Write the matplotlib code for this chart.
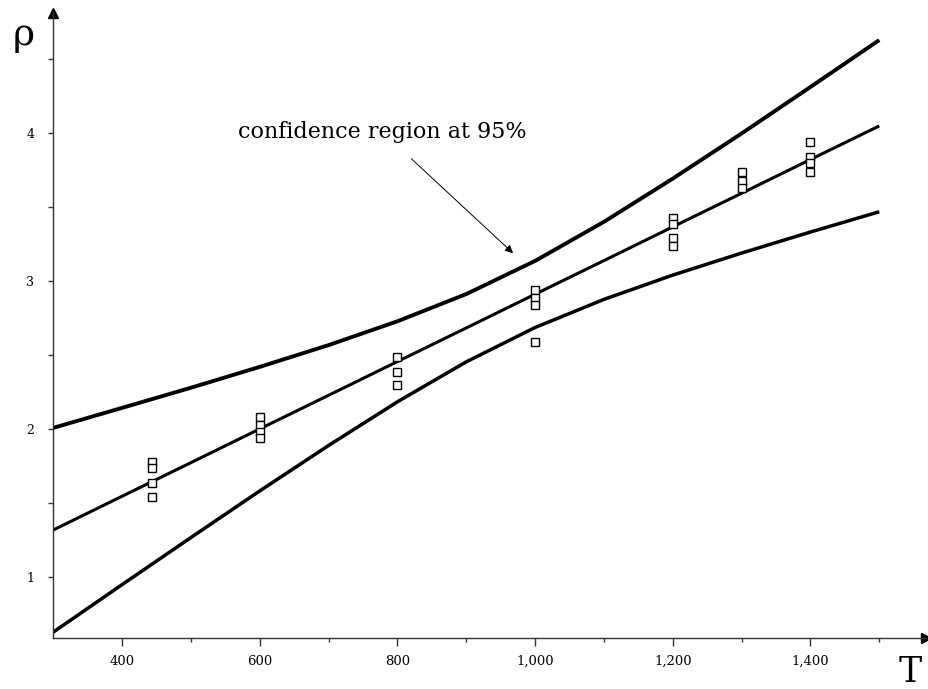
import matplotlib
matplotlib.use("Agg")
import matplotlib.pyplot as plt
from matplotlib.ticker import FuncFormatter

# ---- data ----
T_curve = [300, 400, 500, 600, 700, 800, 900, 1000, 1100, 1200, 1300, 1400, 1500]
rho_fit = [1.32, 1.548, 1.775, 2.003, 2.23, 2.458, 2.685, 2.913, 3.14, 3.368, 3.595, 3.823, 4.05]
rho_upper = [2.01, 2.145, 2.281, 2.422, 2.569, 2.730, 2.914, 3.138, 3.402, 3.694, 3.999, 4.313, 4.63]
rho_lower = [0.63, 0.951, 1.269, 1.584, 1.891, 2.186, 2.456, 2.688, 2.878, 3.042, 3.191, 3.333, 3.47]

T_obs = [443, 443, 443, 443,
         600, 600, 600, 600,
         800, 800, 800,
         1000, 1000, 1000, 1000,
         1200, 1200, 1200, 1200,
         1300, 1300, 1300,
         1400, 1400, 1400, 1400]
rho_obs = [1.78, 1.74, 1.64, 1.54,
           2.08, 2.03, 1.98, 1.94,
           2.49, 2.39, 2.30,
           2.94, 2.89, 2.84, 2.59,
           3.43, 3.39, 3.29, 3.24,
           3.74, 3.68, 3.63,
           3.94, 3.84, 3.80, 3.74]

x_major = [400, 600, 800, 1000, 1200, 1400]
x_minor = [500, 700, 900, 1100, 1300, 1500]
y_major = [1, 2, 3, 4]
y_minor = [1.5, 2.5, 3.5, 4.5]

annot_text = "confidence region at 95%"

W, H = 929, 689
fig = plt.figure(figsize=(W / 100, H / 100), dpi=100)
ax = fig.add_axes([53.3 / W, (H - 638.3) / H, (926 - 53.3) / W, (638.3 - 13) / H])
ax.set_xlim(300, 1567.9)
ax.set_ylim(0.588, 4.813)

ax.plot(T_curve, rho_upper, color="black", lw=2.8, solid_capstyle="butt",
        solid_joinstyle="round")
ax.plot(T_curve, rho_fit, color="black", lw=2.2, solid_capstyle="butt",
        solid_joinstyle="round")
ax.plot(T_curve, rho_lower, color="black", lw=2.5, solid_capstyle="butt",
        solid_joinstyle="round")
ax.plot(T_obs, rho_obs, linestyle="none", marker="s", ms=6, mfc="white",
        mec="black", mew=1.0, zorder=5)

for s in ["top", "right"]:
    ax.spines[s].set_visible(False)
for s in ["left", "bottom"]:
    ax.spines[s].set_color("#333333")
    ax.spines[s].set_linewidth(1.0)

ax.plot(1, 0, marker=">", color="black", ms=7, transform=ax.transAxes, clip_on=False)
ax.plot(0, 1, marker="^", color="black", ms=7, transform=ax.transAxes, clip_on=False)

ax.set_xticks(x_major)
ax.set_xticks(x_minor, minor=True)
ax.set_yticks(y_major)
ax.set_yticks(y_minor, minor=True)
ax.xaxis.set_major_formatter(FuncFormatter(lambda v, p: "{:,.0f}".format(v)))
ax.yaxis.set_major_formatter(FuncFormatter(lambda v, p: "{:.0f}".format(v)))

ax.tick_params(axis="x", which="major", direction="out", length=5.8, width=1.0,
               color="#333333", pad=6, labelsize=9.5)
ax.tick_params(axis="x", which="minor", direction="out", length=3, width=1.0,
               color="#333333")
ax.tick_params(axis="y", which="major", direction="out", length=3.6, width=1.0,
               color="#333333", pad=10, labelsize=9)
ax.tick_params(axis="y", which="minor", direction="out", length=3.6, width=1.0,
               color="#333333")
for lab in ax.get_xticklabels() + ax.get_yticklabels():
    lab.set_family("DejaVu Serif")

ax.annotate(annot_text, xy=(968, 3.19), xytext=(778, 3.97),
            textcoords="data", ha="center", va="baseline",
            fontsize=16, family="DejaVu Serif",
            arrowprops=dict(arrowstyle="-|>", color="black", lw=0.7,
                            mutation_scale=12, shrinkA=14, shrinkB=0))

fig.text(24 / W, 1 - 45 / H, "ρ", fontsize=27, family="DejaVu Serif",
         ha="center", va="baseline")
fig.text(910 / W, 1 - 682 / H, "T", fontsize=25, family="DejaVu Serif",
         ha="center", va="baseline")

fig.savefig("out.png", dpi=100)
